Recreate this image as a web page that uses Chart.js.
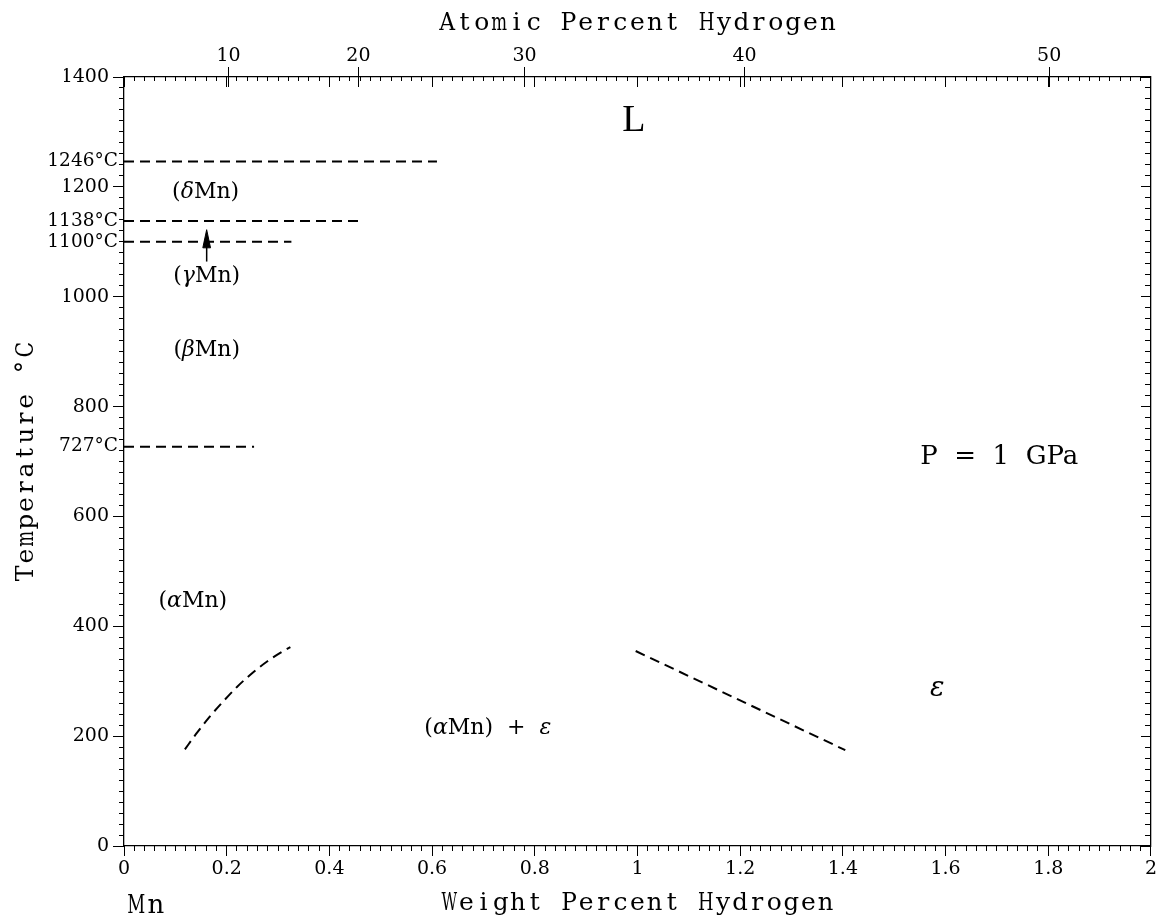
<!DOCTYPE html>
<html>
<head>
<meta charset="utf-8">
<script src="https://cdn.jsdelivr.net/npm/chart.js@4.4.1/dist/chart.umd.min.js"></script>
<style>
html,body{margin:0;padding:0;background:#fff;}
#wrap{width:1159px;height:916px;position:relative;}
</style>
</head>
<body>
<div id="wrap"><canvas id="c" width="1159" height="916"></canvas></div>
<script>
// ---------- data ----------
const xMajorTicks = [0, 0.2, 0.4, 0.6, 0.8, 1, 1.2, 1.4, 1.6, 1.8, 2];
const yMajorTicks = [0, 200, 400, 600, 800, 1000, 1200, 1400];
const atomicTicks = [10, 20, 30, 40, 50];

const isoTemps  = [1246, 1138, 1100, 727];
const isoEndWt  = [0.6095, 0.4574, 0.326, 0.2533];
const isoLabels = ['1246°C', '1138°C', '1100°C', '727°C'];

const alphaBoundaryWt = [0.1186, 0.14, 0.165, 0.193, 0.22, 0.25, 0.28, 0.305, 0.324];
const alphaBoundaryT  = [176, 203.5, 233.3, 263, 289.6, 315, 336.8, 352, 362];

const epsBoundaryWt = [0.9965, 1.4047];
const epsBoundaryT  = [355, 174.5];

const arrowShaftWt = [0.161, 0.161];
const arrowShaftT  = [1064, 1095];
const arrowHeadWt  = [0.1535, 0.161, 0.1685, 0.1535];
const arrowHeadT   = [1089, 1122, 1089, 1089];

const regionLabels = ['L', '(δMn)', '(γMn)', '(βMn)', '(αMn)', '(αMn)  +  ε', 'ε', 'P  =  1  GPa'];
const regionWt     = [0.993, 0.159, 0.161, 0.161, 0.134, 0.7085, 1.584, 1.7046];
const regionT      = [1320, 1191, 1038, 902, 445, 214, 285, 707];

// ---------- styles ----------
const regionFonts = ['38px "Liberation Serif"', '22px "DejaVu Serif"', '22px "DejaVu Serif"', '22px "DejaVu Serif"',
                     '22px "DejaVu Serif"', '22px "DejaVu Serif"', '27px "DejaVu Serif"', '26px "DejaVu Serif"'];
const BLACK = '#000';
const tickFont = {family: 'DejaVu Serif', size: 19};

function atToWt(a) { return 100 * a * 1.008 / (a * 1.008 + (100 - a) * 54.938); }
function fixedTicks(arr) { return s => { s.ticks = arr.map(v => ({value: v})); }; }
function pts(xs, ys) { return xs.map((v, i) => ({x: v, y: ys[i]})); }

const dashStyle = {showLine: true, pointRadius: 0, borderColor: BLACK, borderWidth: 2, borderDash: [10, 6], fill: false};
const datasets = [];
isoTemps.forEach((t, i) => datasets.push(Object.assign({data: pts([0, isoEndWt[i]], [t, t])}, dashStyle)));
datasets.push(Object.assign({data: pts(alphaBoundaryWt, alphaBoundaryT), tension: 0.4, cubicInterpolationMode: 'monotone'}, dashStyle));
datasets.push(Object.assign({data: pts(epsBoundaryWt, epsBoundaryT)}, dashStyle));
datasets.push({data: pts(arrowShaftWt, arrowShaftT), showLine: true, pointRadius: 0, borderColor: BLACK, borderWidth: 1.5, fill: false});
datasets.push({data: pts(arrowHeadWt, arrowHeadT), showLine: true, pointRadius: 0, borderColor: BLACK, borderWidth: 1, backgroundColor: BLACK, fill: 'shape'});

// ---------- helper scale builders ----------
function tickAxis(axis, position, opts) {
  const o = {
    type: 'linear', axis: axis, position: position,
    min: 0, max: axis === 'x' ? 2 : 1400,
    grid: {drawOnChartArea: false, drawTicks: true, tickLength: opts.tl, tickColor: BLACK, tickWidth: 1},
    border: {display: !!opts.border, color: BLACK, width: 1.3},
    ticks: {display: false, autoSkip: false}
  };
  if (opts.step) o.ticks.stepSize = opts.step;
  if (opts.list) o.afterBuildTicks = fixedTicks(opts.list);
  return o;
}

const scales = {
  x: {
    type: 'linear', position: 'bottom', min: 0, max: 2,
    afterBuildTicks: fixedTicks(xMajorTicks),
    afterFit: s => { s.height = 40; },
    grid: {drawOnChartArea: false, drawTicks: true, tickLength: 10, tickColor: BLACK, tickWidth: 1},
    border: {display: true, color: BLACK, width: 1.3},
    ticks: {autoSkip: false, maxRotation: 0, padding: 2, color: BLACK, font: tickFont,
            callback: v => String(Math.round(v * 10) / 10)}
  },
  y: {
    type: 'linear', position: 'left', min: 0, max: 1400,
    afterBuildTicks: fixedTicks(yMajorTicks),
    afterFit: s => { s.width = 60; },
    grid: {drawOnChartArea: false, drawTicks: true, tickLength: 11, tickColor: BLACK, tickWidth: 1},
    border: {display: true, color: BLACK, width: 1.3},
    ticks: {autoSkip: false, padding: 4, color: BLACK, font: tickFont, callback: v => String(v)}
  },
  xAt: {
    type: 'linear', axis: 'x', position: 'top', min: 0, max: 2,
    afterBuildTicks: s => { s.ticks = atomicTicks.map(a => ({value: atToWt(a)})); },
    afterFit: s => { s.height = 40; },
    grid: {drawOnChartArea: false, drawTicks: true, tickLength: 10, tickColor: BLACK, tickWidth: 1},
    border: {display: true, color: BLACK, width: 1.3},
    ticks: {autoSkip: false, maxRotation: 0, padding: 0, color: BLACK, font: tickFont,
            callback: (v, i) => String(atomicTicks[i])}
  },
  xMinorBottom: tickAxis('x', {y: 0}, {tl: 5, step: 0.02}),
  xMinorTop: tickAxis('x', {y: 1400}, {tl: 4, step: 0.02}),
  xMajorTop: tickAxis('x', {y: 1400}, {tl: 10, list: xMajorTicks}),
  xAtInner: (function () { const o = tickAxis('x', {y: 1400}, {tl: 10}); o.afterBuildTicks = s => { s.ticks = atomicTicks.map(a => ({value: atToWt(a)})); }; return o; })(),
  yMinorLeft: tickAxis('y', {x: 0}, {tl: 5, step: 20}),
  yMinorRight: tickAxis('y', {x: 2}, {tl: 5, step: 20, border: true}),
  yMajorRight: tickAxis('y', {x: 2}, {tl: 10, list: yMajorTicks}),
  ySpecial: {
    type: 'linear', axis: 'y', position: {x: -0.012}, min: 0, max: 1400,
    afterBuildTicks: fixedTicks(isoTemps),
    grid: {display: false, drawOnChartArea: false, drawTicks: false},
    border: {display: false},
    ticks: {autoSkip: false, color: BLACK, font: {family: 'DejaVu Serif', size: 18.5},
            callback: (v, i) => isoLabels[i]}
  }
};

// ---------- text drawing helpers ----------
const GREEK = /[α-ωΑ-Ω]/;
function drawRich(ctx, text, cx, cy, font) {
  const runs = [];
  for (const ch of text) {
    const g = GREEK.test(ch);
    if (runs.length && runs[runs.length - 1].g === g) runs[runs.length - 1].t += ch;
    else runs.push({t: ch, g: g});
  }
  let total = 0;
  runs.forEach(r => { ctx.font = (r.g ? 'italic ' : '') + font; r.w = ctx.measureText(r.t).width; total += r.w; });
  let x = cx - total / 2;
  ctx.textAlign = 'left';
  ctx.textBaseline = 'middle';
  runs.forEach(r => { ctx.font = (r.g ? 'italic ' : '') + font; ctx.fillText(r.t, x, cy); x += r.w; });
}
// monospaced-looking text: every character centred in its own cell, squeezed if wider than the cell
function drawMono(ctx, text, cx, baseY, adv, font) {
  ctx.font = font;
  ctx.textAlign = 'center';
  ctx.textBaseline = 'alphabetic';
  const chars = Array.from(text);
  const start = cx - chars.length * adv / 2;
  chars.forEach((ch, i) => {
    const w = ctx.measureText(ch).width;
    const k = Math.min(1, (adv - 1.5) / w);
    ctx.save();
    ctx.translate(start + (i + 0.5) * adv, baseY);
    ctx.scale(k, 1);
    ctx.fillText(ch, 0, 0);
    ctx.restore();
  });
}

const TITLE_FONT = '25px "DejaVu Serif"';
const annotate = {
  id: 'annotate',
  afterDatasetsDraw(chart) {
    const {ctx, chartArea: a, scales: s} = chart;
    ctx.save();
    ctx.fillStyle = BLACK;
    regionLabels.forEach((t, i) => {
      drawRich(ctx, t, s.x.getPixelForValue(regionWt[i]), s.y.getPixelForValue(regionT[i]), regionFonts[i]);
    });
    const cx = (a.left + a.right) / 2;
    drawMono(ctx, 'Atomic Percent Hydrogen', cx, a.top - 47, 17.3, TITLE_FONT);
    drawMono(ctx, 'Weight Percent Hydrogen', cx, a.bottom + 64, 17.1, TITLE_FONT);
    drawMono(ctx, 'Mn', a.left + 22, a.bottom + 67, 19.5, '26px "DejaVu Serif"');
    ctx.save();
    ctx.translate(a.left - 91, (a.top + a.bottom) / 2);
    ctx.rotate(-Math.PI / 2);
    drawMono(ctx, 'Temperature °C', 0, 0, 17.2, TITLE_FONT);
    ctx.restore();
    ctx.restore();
  }
};

new Chart(document.getElementById('c'), {
  type: 'scatter',
  data: {datasets: datasets},
  options: {
    responsive: false,
    animation: false,
    devicePixelRatio: 1,
    events: [],
    layout: {padding: {left: 64, right: 6, top: 37, bottom: 30}},
    plugins: {legend: {display: false}, tooltip: {enabled: false}, title: {display: false}},
    scales: scales
  },
  plugins: [annotate]
});
</script>
</body>
</html>
